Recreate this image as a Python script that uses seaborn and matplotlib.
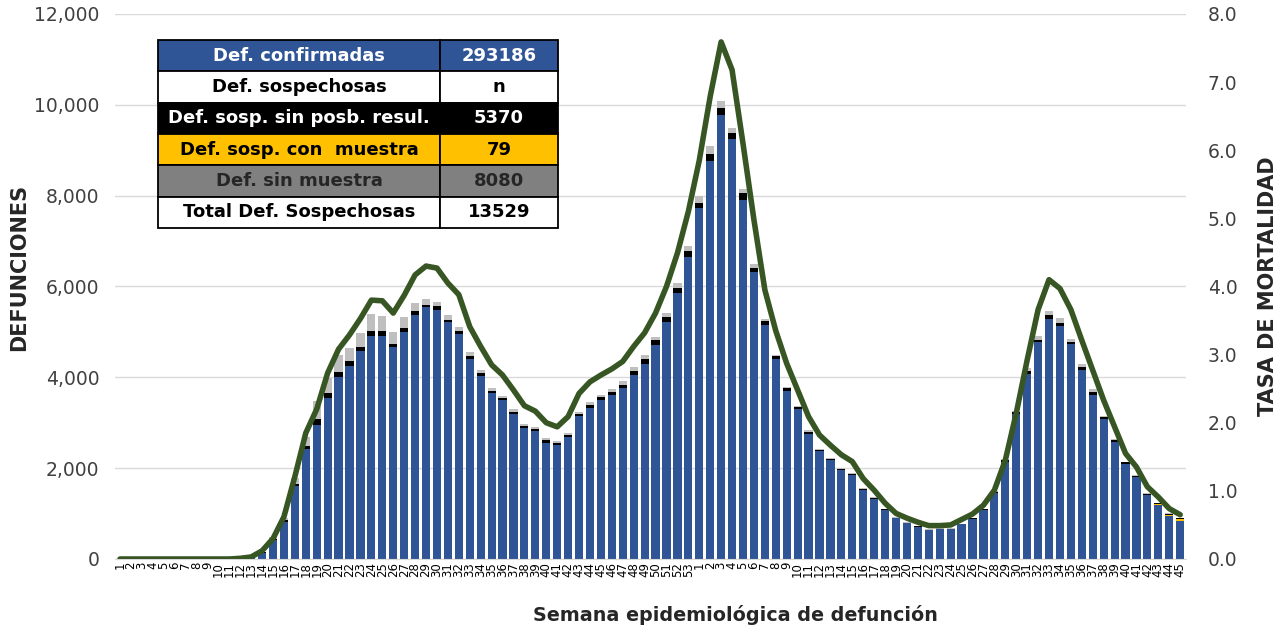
import matplotlib
matplotlib.use("Agg")
import matplotlib.pyplot as plt
import pandas as pd
import seaborn as sns

# Semanas epidemiológicas (2020: 1-53, 2021: 1-45)
semanas_2020 = list(range(1, 54))
semanas_2021 = list(range(1, 46))

# Defunciones confirmadas por semana
conf_2020 = [0, 0, 0, 0, 0, 0, 0, 0, 0, 0, 0, 0,
             20, 140, 420, 810, 1610, 2420, 2960, 3540, 4000, 4240,
             4570, 4910, 4900, 4660, 4990, 5370, 5540, 5490, 5210, 4960,
             4410, 4030, 3660, 3490, 3190, 2890, 2820, 2560, 2500, 2680,
             3150, 3320, 3490, 3600, 3760, 4050, 4300, 4710, 5220, 5850,
             6640]
conf_2021 = [7730, 8770, 9780, 9240, 7910, 6310, 5150, 4400, 3700, 3300,
             2760, 2380, 2170, 1960, 1850, 1520, 1330, 1080, 900, 790,
             710, 640, 660, 660, 760, 880, 1080, 1450, 2140, 3190,
             4080, 4770, 5290, 5140, 4730, 4160, 3610, 3080, 2580, 2090,
             1800, 1410, 1190, 950, 840]

# Sospechosas con muestra (amarillo)
muestra_2020 = [0] * 53
muestra_2021 = [0] * 41 + [4, 10, 20, 45]

# Sospechosas sin posibilidad de resultado (negro)
sinres_2020 = [0, 0, 0, 0, 0, 0, 0, 0, 0, 0, 0, 0,
               0, 10, 30, 40, 50, 65, 125, 125, 125, 110,
               95, 110, 125, 80, 90, 80, 60, 70, 60, 70,
               65, 65, 45, 50, 45, 45, 45, 50, 50, 50,
               45, 70, 66, 73, 80, 95, 95, 110, 117, 125,
               132]
sinres_2021 = [117, 154, 147, 147, 147, 103, 80, 60, 59, 44,
               44, 30, 37, 30, 30, 22, 22, 15, 12, 10,
               10, 8, 8, 10, 12, 15, 18, 22, 37, 37,
               51, 59, 73, 66, 51, 73, 59, 37, 37, 37,
               29, 22, 29, 22, 15]

# Sin muestra (gris)
sinmu_2020 = [0, 0, 0, 0, 0, 0, 0, 0, 0, 0, 0, 0,
              0, 10, 30, 60, 130, 200, 390, 330, 375, 295,
              310, 375, 330, 250, 257, 176, 130, 95, 110, 73,
              88, 66, 51, 51, 59, 37, 44, 44, 51, 51,
              44, 59, 60, 73, 80, 80, 88, 73, 88, 95,
              110]
sinmu_2021 = [147, 161, 161, 110, 88, 73, 55, 40, 37, 29,
              37, 22, 22, 15, 15, 15, 15, 10, 10, 8,
              8, 8, 8, 8, 8, 10, 10, 15, 22, 37,
              73, 88, 88, 95, 73, 51, 66, 37, 22, 15,
              15, 10, 10, 10, 10]

# Tasa de mortalidad
tasa_2020 = [0, 0, 0, 0, 0, 0, 0, 0, 0, 0, 0, 0.01,
             0.03, 0.12, 0.30, 0.62, 1.21, 1.85, 2.20, 2.73, 3.08, 3.29,
             3.53, 3.80, 3.79, 3.61, 3.87, 4.17, 4.30, 4.27, 4.05, 3.88,
             3.41, 3.12, 2.85, 2.70, 2.48, 2.25, 2.17, 2.00, 1.94, 2.09,
             2.43, 2.60, 2.70, 2.79, 2.90, 3.12, 3.32, 3.61, 4.00, 4.49,
             5.10]
tasa_2021 = [5.85, 6.79, 7.59, 7.18, 6.10, 4.98, 3.95, 3.35, 2.87, 2.48,
             2.09, 1.82, 1.67, 1.53, 1.43, 1.18, 1.01, 0.82, 0.67, 0.60,
             0.54, 0.49, 0.49, 0.50, 0.58, 0.66, 0.79, 1.01, 1.45, 2.14,
             2.92, 3.66, 4.10, 3.97, 3.66, 3.21, 2.77, 2.33, 1.94, 1.55,
             1.35, 1.06, 0.91, 0.74, 0.65]

# Tabla de resumen
tabla_etiquetas = ["Def. confirmadas", "Def. sospechosas", "Def. sosp. sin posb. resul.",
                   "Def. sosp. con  muestra", "Def. sin muestra", "Total Def. Sospechosas"]
tabla_valores = ["293186", "n", "5370", "79", "8080", "13529"]

semanas = [str(s) for s in semanas_2020 + semanas_2021]
df = pd.DataFrame({
    "pos": range(len(semanas)),
    "conf": conf_2020 + conf_2021,
    "muestra": muestra_2020 + muestra_2021,
    "sinres": sinres_2020 + sinres_2021,
    "sinmu": sinmu_2020 + sinmu_2021,
    "tasa": tasa_2020 + tasa_2021,
})
df["c1"] = df["conf"] + df["muestra"]
df["c2"] = df["c1"] + df["sinres"]
df["c3"] = df["c2"] + df["sinmu"]

sns.set_style("white")
plt.rcParams["font.family"] = ["DejaVu Sans"]

fig = plt.figure(figsize=(12.84, 6.3), dpi=100)
ax = fig.add_axes([0.0892, 0.1127, 0.8342, 0.8651])

# barras apiladas: se dibujan los acumulados de arriba hacia abajo
capas = [("c3", "#BFBFBF"), ("c2", "#000000"), ("c1", "#FFC000"), ("conf", "#2F5597")]
for col, color in capas:
    sns.barplot(data=df, x="pos", y=col, color=color, width=0.75, saturation=1,
                errorbar=None, linewidth=0, ax=ax)

ax.set_ylim(0, 12000)
ax.set_yticks(range(0, 12001, 2000))
ax.set_yticklabels([f"{v:,}" for v in range(0, 12001, 2000)], fontsize=13.5, color="#404040")
ax.set_xticks(range(len(semanas)))
ax.set_xticklabels(semanas, rotation=90, fontsize=8.5, color="black")
ax.tick_params(axis="x", length=0, pad=2)
ax.tick_params(axis="y", length=0, pad=11)
ax.yaxis.grid(True, color="#D9D9D9", linewidth=1)
ax.set_axisbelow(True)
for s in ["left", "right", "top"]:
    ax.spines[s].set_visible(False)
ax.spines["bottom"].set_color("#D9D9D9")
ax.set_xlabel("Semana epidemiológica de defunción", fontsize=13.8, fontweight="bold", labelpad=6)
ax.xaxis.set_label_coords(0.58, -0.085)
ax.set_ylabel("DEFUNCIONES", fontsize=15, fontweight="bold")
ax.yaxis.set_label_coords(-0.08, 0.535)

ax2 = ax.twinx()
sns.lineplot(data=df, x="pos", y="tasa", color="#375623", linewidth=4, ax=ax2)
ax2.lines[0].set_solid_joinstyle("round")
ax2.lines[0].set_solid_capstyle("round")
ax2.set_ylim(0, 8)
ax2.set_yticks([i for i in range(9)])
ax2.set_yticklabels([f"{i:.1f}" for i in range(9)], fontsize=13.5, color="#404040")
ax2.tick_params(axis="y", length=0, pad=16)
for s in ax2.spines.values():
    s.set_visible(False)
ax2.set_ylabel("TASA DE MORTALIDAD", fontsize=15, fontweight="bold")
ax2.yaxis.set_label_coords(1.068, 0.5)
ax.set_xlim(-0.5, len(semanas) - 0.5)

# tabla resumen
fondos = ["#2F5597", "white", "black", "#FFC000", "#808080", "white"]
letras = ["white", "black", "white", "black", "#262626", "black"]
tabla = ax.table(cellText=[[e, v] for e, v in zip(tabla_etiquetas, tabla_valores)],
                 cellColours=[[f, f] for f in fondos],
                 colWidths=[0.705, 0.295], cellLoc="center",
                 bbox=[0.0406, 0.6073, 0.3734, 0.345])
tabla.auto_set_font_size(False)
for (r, c), cell in tabla.get_celld().items():
    cell.set_edgecolor("black")
    cell.set_linewidth(1.3)
    cell.get_text().set_fontsize(13)
    cell.get_text().set_fontweight("bold")
    cell.get_text().set_color(letras[r])
tabla.set_zorder(5)

fig.savefig("out.png", dpi=100)
